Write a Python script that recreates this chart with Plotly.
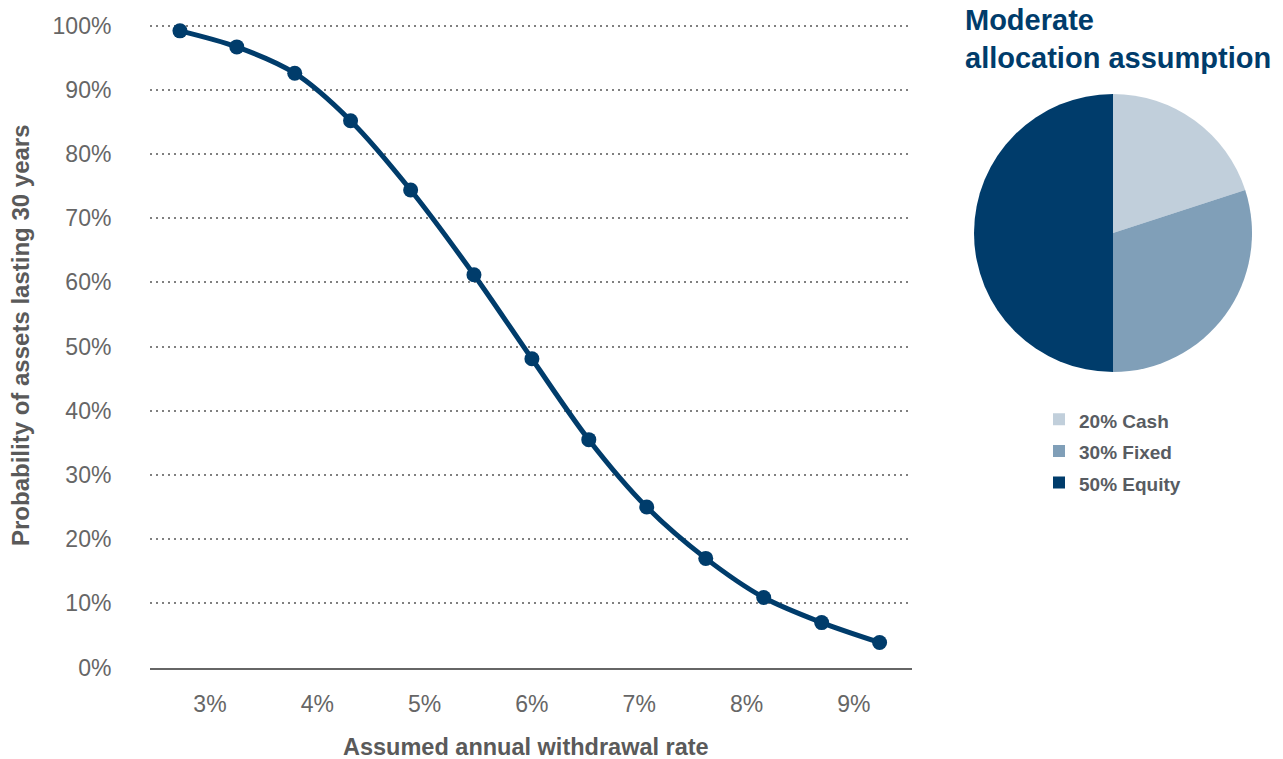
import plotly.graph_objects as go

# Withdrawal rate (%) vs probability (%) that assets last 30 years
rates = [2.72, 3.25, 3.79, 4.31, 4.87, 5.46, 6.00, 6.53, 7.07, 7.62, 8.16, 8.70, 9.24]
prob = [99.2, 96.7, 92.6, 85.2, 74.4, 61.2, 48.1, 35.5, 25.0, 17.0, 10.9, 7.0, 3.9]

x_ticks = [3, 4, 5, 6, 7, 8, 9]
x_tick_text = ["3%", "4%", "5%", "6%", "7%", "8%", "9%"]
y_ticks = [0, 10, 20, 30, 40, 50, 60, 70, 80, 90, 100]
y_tick_text = ["0%", "10%", "20%", "30%", "40%", "50%", "60%", "70%", "80%", "90%", "100%"]

# Moderate allocation mix
alloc_labels = ["20% Cash", "30% Fixed", "50% Equity"]
alloc_values = [20, 30, 50]
alloc_colors = ["#c1cfdb", "#809fb8", "#003c6b"]

NAVY = "#003c6b"
FONT = "Liberation Sans"
W, H = 1283, 759

# pixel geometry of the line chart's plotting area
Y0_PX, Y100_PX = 667.5, 25.7
Y_TOP = 101.0
y_top_px = Y0_PX - (Y0_PX - Y100_PX) * Y_TOP / 100

fig = go.Figure()

fig.add_trace(go.Scatter(
    x=rates, y=prob,
    mode="lines+markers",
    line=dict(color=NAVY, width=5, shape="spline", smoothing=0.9),
    marker=dict(color=NAVY, size=15),
    cliponaxis=False,
    showlegend=False,
    hovertemplate="%{x:.2f}%: %{y:.1f}%<extra></extra>",
))

fig.add_trace(go.Pie(
    labels=[f'<span style="font-size:19px"><b>{t}</b></span>' for t in alloc_labels],
    values=alloc_values,
    marker=dict(colors=alloc_colors, line=dict(width=0)),
    sort=False,
    direction="clockwise",
    rotation=0,
    textinfo="none",
    hoverinfo="label+percent",
    domain=dict(x=[974 / W, 1252 / W], y=[(H - 372) / H, (H - 94) / H]),
    showlegend=True,
))

fig.update_layout(
    width=W, height=H,
    margin=dict(l=0, r=0, t=0, b=0),
    paper_bgcolor="white",
    plot_bgcolor="white",
    font=dict(family=FONT, color="#666666"),
    xaxis=dict(
        domain=[150 / W, 912 / W],
        range=[2.441, 9.542],
        tickvals=x_ticks, ticktext=x_tick_text,
        tickfont=dict(size=23, color="#666666"),
        ticks="outside", ticklen=15, tickcolor="rgba(0,0,0,0)",
        showgrid=False, zeroline=False,
        showline=True, linecolor="#666666", linewidth=2,
        automargin=False, fixedrange=True,
    ),
    yaxis=dict(
        domain=[(H - Y0_PX) / H, (H - y_top_px) / H],
        range=[0, Y_TOP],
        tickvals=y_ticks, ticktext=y_tick_text,
        tickfont=dict(size=23, color="#666666"),
        ticks="outside", ticklen=33, tickcolor="rgba(0,0,0,0)",
        showgrid=True, gridcolor="#808080", gridwidth=1.5, griddash="1.5px,4.5px",
        zeroline=False, showline=False,
        automargin=False, fixedrange=True,
    ),
    legend=dict(
        x=1039 / W, y=(H - 398.5) / H,
        xanchor="left", yanchor="top",
        font=dict(family=FONT, size=22, color="#585c62"),
        bgcolor="rgba(0,0,0,0)",
        traceorder="normal",
    ),
    annotations=[
        dict(
            text="<b>Assumed annual withdrawal rate</b>",
            x=526 / W, y=(H - 747) / H, xref="paper", yref="paper",
            xanchor="center", yanchor="middle", showarrow=False,
            font=dict(family=FONT, size=23.5, color="#5a5a5a"),
        ),
        dict(
            text="<b>Probability of assets lasting 30 years</b>",
            x=20 / W, y=(H - 335) / H, xref="paper", yref="paper",
            xanchor="center", yanchor="middle", showarrow=False, textangle=-90,
            font=dict(family=FONT, size=24, color="#5a5a5a"),
        ),
        dict(
            text="<b>Moderate<br>allocation assumption</b>",
            x=963 / W, y=(H - 2) / H, xref="paper", yref="paper",
            xanchor="left", yanchor="top", align="left", showarrow=False,
            font=dict(family=FONT, size=29, color=NAVY),
        ),
    ],
)

fig.write_html("out.html")
